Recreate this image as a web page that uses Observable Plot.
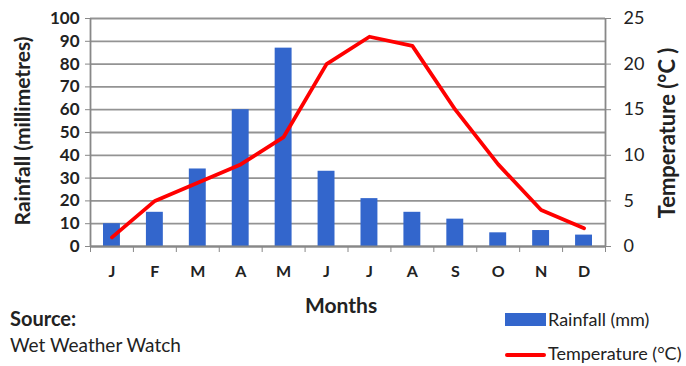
<!DOCTYPE html>
<html>
<head>
<meta charset="utf-8">
<script src="https://cdn.jsdelivr.net/npm/d3@7"></script>
<script src="https://cdn.jsdelivr.net/npm/@observablehq/plot@0.6"></script>
<style>
  html, body { margin: 0; padding: 0; background: #fff; }
  #wrap { position: relative; width: 686px; height: 366px; font-family: Lato, "Open Sans", sans-serif; color: #222; }
  .lbl { position: absolute; white-space: nowrap; line-height: 1.2; }
  .rot { transform-origin: center center; transform: translate(-50%, -50%) rotate(-90deg); font-weight: bold; }
</style>
</head>
<body>
<div id="wrap"></div>
<script>
const months = ["J", "F", "M", "A", "M", "J", "J", "A", "S", "O", "N", "D"];
const rainfall = [10, 15, 34, 60, 87, 33, 21, 15, 12, 6, 7, 5];
const temperature = [1, 5, 7, 9, 12, 20, 23, 22, 15, 9, 4, 2];
const rainTicks = [0, 10, 20, 30, 40, 50, 60, 70, 80, 90, 100];
const tempTicks = [0, 5, 10, 15, 20, 25];
const tempToRain = 4; // 25 °C on the right axis aligns with 100 mm on the left

const data = months.map((m, i) => ({ i, month: m, rain: rainfall[i], temp: temperature[i] }));

const chart = Plot.plot({
  width: 686,
  height: 366,
  marginTop: 18,
  marginBottom: 120,
  marginLeft: 90,
  marginRight: 81,
  style: { fontFamily: "Lato, 'Open Sans', sans-serif", color: "#222", background: "#fff" },
  x: { type: "linear", domain: [0, 12] },
  y: { domain: [0, 100] },
  marks: [
    Plot.gridY(rainTicks, { stroke: "#939393", strokeOpacity: 1, strokeWidth: 1.8 }),
    Plot.rectY(data, { x1: "i", x2: d => d.i + 1, y: "rain", fill: "#3366cc", insetLeft: 13, insetRight: 13 }),
    Plot.ruleX([0, 12], { stroke: "#888", strokeWidth: 1.8 }),
    Plot.ruleY([0], { stroke: "#888", strokeWidth: 1.8 }),
    Plot.axisY({ anchor: "left", ticks: rainTicks, tickSize: 5, tickPadding: 6, fontSize: 17, fontWeight: "bold", stroke: "#888", label: null, tickFormat: d => d }),
    Plot.axisY({ anchor: "right", ticks: tempTicks.map(t => t * tempToRain), tickSize: 5, tickPadding: 13, fontSize: 18, label: null, stroke: "#888", tickFormat: d => d / tempToRain }),
    Plot.axisX({ ticks: d3.range(0, 13), tickSize: 6, tickFormat: () => "", stroke: "#888", label: null }),
    Plot.axisX({ ticks: months.map((m, i) => i + 0.5), tickSize: 0, tickPadding: 19, fontSize: 16, fontWeight: "bold", fill: "#222", tickFormat: d => months[Math.floor(d)], label: null }),
    Plot.line(data, { x: d => d.i + 0.5, y: d => d.temp * tempToRain, stroke: "#ff0000", strokeWidth: 3.8, strokeLinejoin: "round", strokeLinecap: "round" })
  ]
});

const wrap = document.getElementById("wrap");
wrap.appendChild(chart);
chart.style.position = "absolute";
chart.style.left = "0";
chart.style.top = "0";

function addLabel(html, css, cls) {
  const d = document.createElement("div");
  d.className = "lbl" + (cls ? " " + cls : "");
  d.innerHTML = html;
  Object.assign(d.style, css);
  wrap.appendChild(d);
  return d;
}

addLabel("Rainfall (millimetres)", { left: "22px", top: "131px", fontSize: "21px" }, "rot");
addLabel("Temperature (°C )", { left: "667px", top: "133px", fontSize: "22px" }, "rot");
addLabel("Months", { left: "305px", top: "292px", fontWeight: "bold", fontSize: "21px" });
addLabel("Source:", { left: "10px", top: "306px", fontWeight: "bold", fontSize: "20px" });
addLabel("Wet Weather Watch", { left: "10px", top: "334px", fontSize: "19px" });

// legend
addLabel("", { left: "505px", top: "313px", width: "41px", height: "13px", background: "#3366cc" });
addLabel("Rainfall (mm)", { left: "548px", top: "309px", fontSize: "18px" });
addLabel("", { left: "505px", top: "353px", width: "41px", height: "4px", background: "#ff0000", borderRadius: "2px" });
addLabel("Temperature (°C)", { left: "548px", top: "343px", fontSize: "18px" });
</script>
</body>
</html>
